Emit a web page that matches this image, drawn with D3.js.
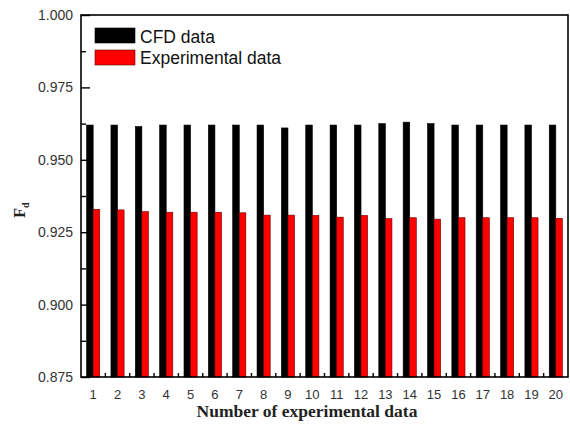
<!DOCTYPE html>
<html>
<head>
<meta charset="utf-8">
<script src="https://cdn.jsdelivr.net/npm/d3@7"></script>
<style>
  body { margin: 0; background: #fff; }
</style>
</head>
<body>
<script>
const categories = ['1','2','3','4','5','6','7','8','9','10','11','12','13','14','15','16','17','18','19','20'];
const cfdValues = [0.962, 0.962, 0.9615, 0.962, 0.962, 0.962, 0.962, 0.962, 0.961, 0.962,
                   0.962, 0.962, 0.9625, 0.963, 0.9625, 0.962, 0.962, 0.962, 0.962, 0.962];
const expValues = [0.9329, 0.9327, 0.9321, 0.9319, 0.9319, 0.9319, 0.9317, 0.9309, 0.9309, 0.9308,
                   0.9302, 0.9308, 0.9297, 0.9300, 0.9295, 0.9300, 0.9300, 0.9300, 0.9300, 0.9298];
const yTicks = [0.875, 0.900, 0.925, 0.950, 0.975, 1.000];
const seriesNames = ['CFD data', 'Experimental data'];
const seriesColors = ['#000000', '#ff0000'];

const w = 570, h = 426;
const plotL = 81, plotR = 568, plotT = 15, plotB = 377;

const svg = d3.select('body').append('svg')
  .attr('width', w)
  .attr('height', h);

const x = d3.scaleBand()
  .domain(categories)
  .range([plotL, plotR])
  .paddingInner(0)
  .paddingOuter(0);

const inner = d3.scaleBand()
  .domain([0, 1])
  .range([0, x.bandwidth()])
  .paddingOuter(0.85)
  .paddingInner(0);

const y = d3.scaleLinear()
  .domain([0.875, 1.0])
  .range([plotB, plotT]);

const series = [cfdValues, expValues];

// bars
series.forEach((vals, s) => {
  svg.append('g')
    .selectAll('rect')
    .data(vals)
    .enter().append('rect')
    .attr('x', (d, i) => x(categories[i]) + inner(s))
    .attr('y', d => y(d))
    .attr('width', inner.bandwidth())
    .attr('height', d => y(0.875) - y(d))
    .attr('fill', seriesColors[s])
    .attr('stroke', s === 0 ? '#000' : '#600')
    .attr('stroke-width', 0.6);
});

// y axis, ticks pointing inward
const yAxis = d3.axisRight(y)
  .tickValues(yTicks)
  .tickSize(9)
  .tickFormat('');
svg.append('g')
  .attr('transform', 'translate(' + plotL + ',0)')
  .call(yAxis)
  .call(g => g.select('.domain').remove())
  .selectAll('line').attr('stroke', '#000').attr('stroke-width', 1.4);

const yMinor = d3.axisRight(y)
  .tickValues(yTicks.slice(0, -1).map(t => t + 0.0125))
  .tickSize(5)
  .tickFormat('');
svg.append('g')
  .attr('transform', 'translate(' + plotL + ',0)')
  .call(yMinor)
  .call(g => g.select('.domain').remove())
  .selectAll('line').attr('stroke', '#000').attr('stroke-width', 1.4);

svg.append('g')
  .selectAll('text')
  .data(yTicks)
  .enter().append('text')
  .attr('x', plotL - 8)
  .attr('y', d => y(d) + 5)
  .attr('text-anchor', 'end')
  .style('font-family', 'Liberation Sans, Arial, sans-serif')
  .style('font-size', '14px')
  .style('fill', '#333')
  .text(d => d3.format('.3f')(d));

// x axis minor ticks between categories
svg.append('g')
  .selectAll('line')
  .data(categories.slice(1))
  .enter().append('line')
  .attr('x1', d => x(d))
  .attr('x2', d => x(d))
  .attr('y1', plotB)
  .attr('y2', plotB - 4)
  .attr('stroke', '#000')
  .attr('stroke-width', 1.4);

svg.append('g')
  .selectAll('text')
  .data(categories)
  .enter().append('text')
  .attr('x', d => x(d) + x.bandwidth() / 2)
  .attr('y', plotB + 22)
  .attr('text-anchor', 'middle')
  .style('font-family', 'Liberation Sans, Arial, sans-serif')
  .style('font-size', '13px')
  .style('fill', '#333')
  .text(d => d);

// frame
svg.append('rect')
  .attr('x', plotL)
  .attr('y', plotT)
  .attr('width', plotR - plotL)
  .attr('height', plotB - plotT)
  .attr('fill', 'none')
  .attr('stroke', '#000')
  .attr('stroke-width', 1.6);

// axis titles
svg.append('text')
  .attr('x', 307)
  .attr('y', 417)
  .attr('text-anchor', 'middle')
  .style('font-family', 'Liberation Serif, Times New Roman, serif')
  .style('font-weight', 'bold')
  .style('font-size', '17.5px')
  .style('fill', '#222')
  .text('Number of experimental data');

const yt = svg.append('text')
  .attr('transform', 'translate(25,' + 210 + ') rotate(-90)')
  .attr('text-anchor', 'middle')
  .style('font-family', 'Liberation Serif, Times New Roman, serif')
  .style('font-weight', 'bold')
  .style('font-size', '16px')
  .style('fill', '#222');
yt.append('tspan').text('F');
yt.append('tspan').attr('dy', 4).style('font-size', '10px').text('d');

// legend
const legend = svg.append('g');
seriesNames.forEach((name, i) => {
  legend.append('rect')
    .attr('x', 95)
    .attr('y', 28 + i * 22)
    .attr('width', 40)
    .attr('height', 15)
    .attr('fill', seriesColors[i])
    .attr('stroke', i === 0 ? '#000' : '#600')
    .attr('stroke-width', 0.6);
  legend.append('text')
    .attr('x', 140)
    .attr('y', 42.5 + i * 21)
    .style('font-family', 'Liberation Sans, Arial, sans-serif')
    .style('font-size', '17.5px')
    .style('fill', '#111')
    .text(name);
});
</script>
</body>
</html>
